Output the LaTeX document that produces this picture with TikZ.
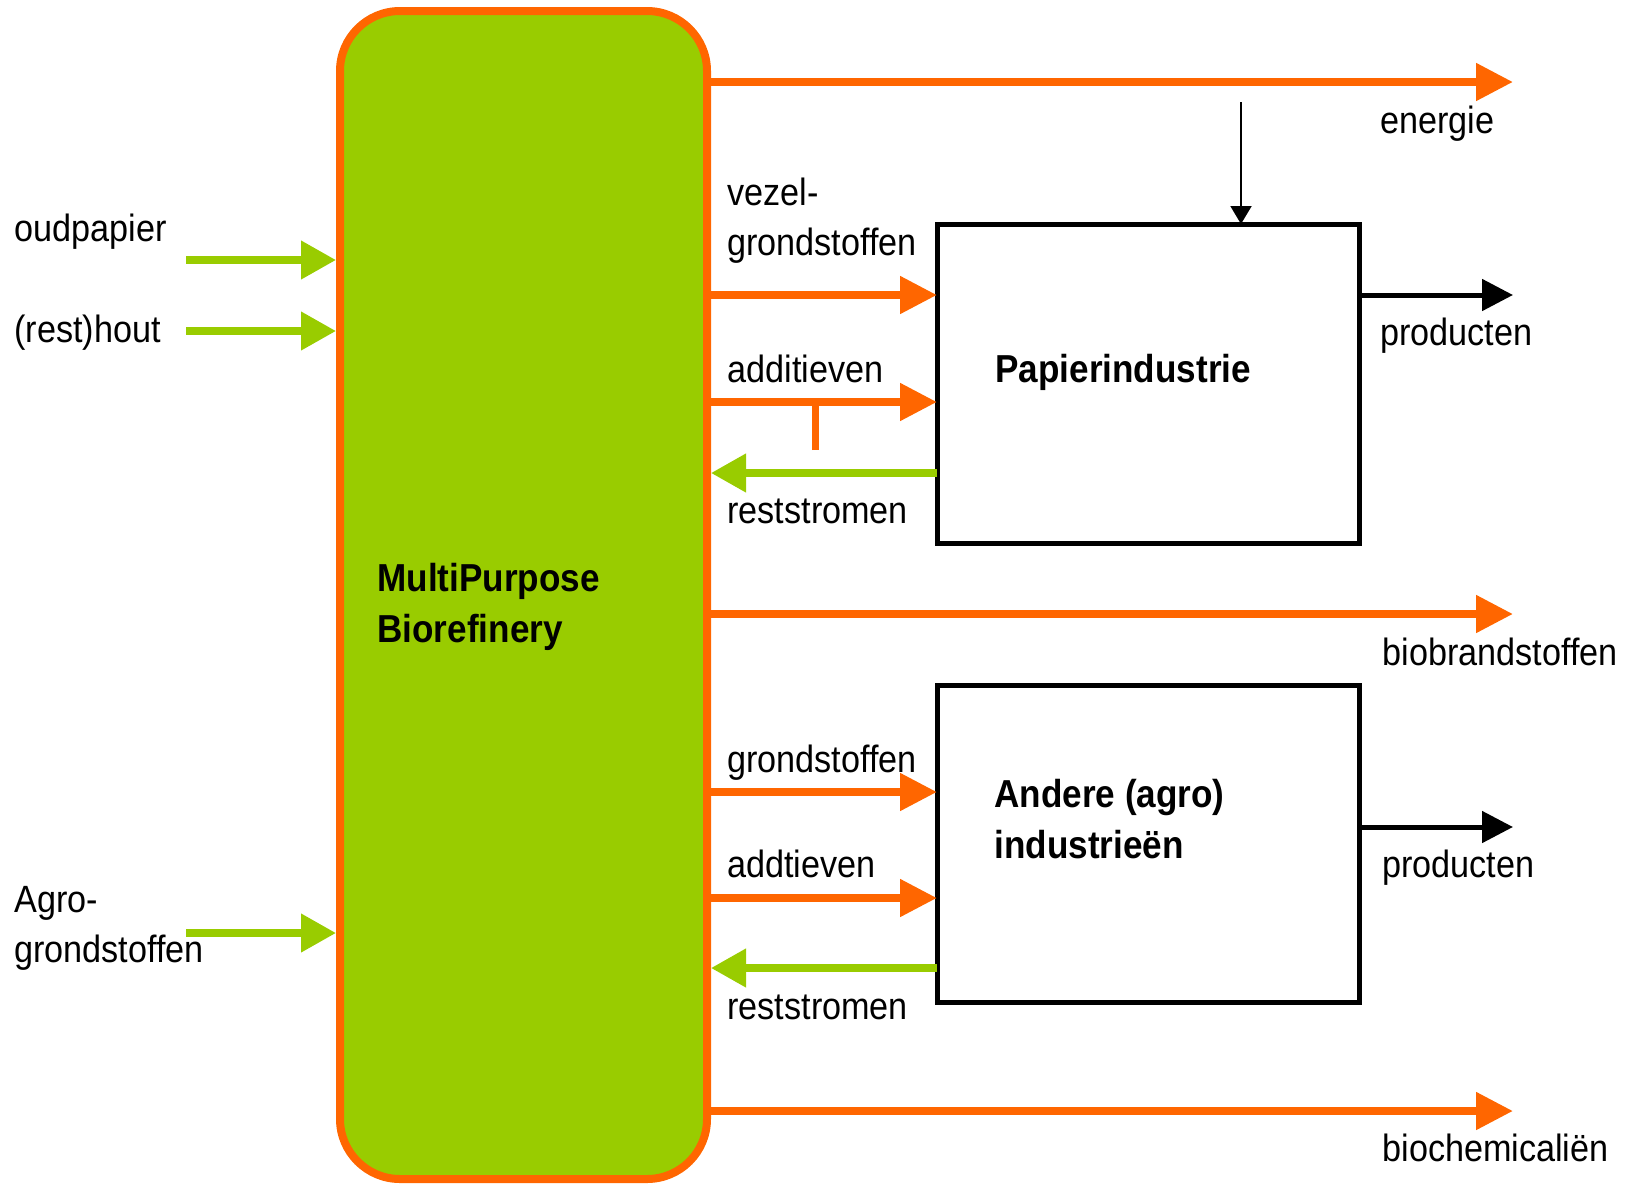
\documentclass[tikz,border=0pt]{standalone}
\usepackage{fontspec}
\setmainfont[FakeStretch=0.9]{Liberation Sans}
\usetikzlibrary{arrows.meta}
\definecolor{flowgreen}{HTML}{99CC00}
\definecolor{floworange}{HTML}{FF6600}

\begin{document}
\begin{tikzpicture}[x=0.5pt, y=-0.5pt,
	txt/.style={anchor=base west, inner sep=0pt, align=left, font=\fontsize{19pt}{25pt}\selectfont},
	boldtxt/.style={txt, font=\fontsize{19.5pt}{25.5pt}\selectfont\bfseries},
	unit/.style={draw=black, line width=2.5pt, minimum width=211pt, outer sep=0pt},
	orangeflow/.style={draw=floworange, line width=4pt, -{Triangle[length=18.5pt, width=18pt]}},
	greenflow/.style={draw=flowgreen, line width=3.7pt, -{Triangle[length=17.5pt, width=18.5pt]}},
	blackflow/.style={draw=black, line width=2.5pt, -{Triangle[length=15.5pt, width=15.5pt]}},
	thinflow/.style={draw=black, line width=1pt, -{Triangle[length=9pt, width=10.5pt]}}]
	\useasboundingbox (0,0) rectangle (1644,1184);

	% blocks
	\node[draw=floworange, fill=flowgreen, line width=4pt, rounded corners=30pt,
		minimum width=183.5pt, minimum height=584pt, inner sep=0pt] (mpb) at (523.5,595) {};
	\node[unit, minimum height=159.5pt] (pap) at (1148,383.5) {};
	\node[unit, minimum height=158.5pt] (agr) at (1148,843.5) {};

	\node[boldtxt] (mpbtxt) at (377,642) {MultiPurpose\\Biorefinery};
	\node[boldtxt] (paptxt) at (995,382) {Papierindustrie};
	\node[boldtxt] (agrtxt) at (994,858) {Andere (agro)\\industrieën};

	% rows
	\coordinate (inx)  at (186,0);
	\coordinate (outx) at (1513,0);
	\coordinate (oud)  at (0,260);
	\coordinate (hout) at (0,331);
	\coordinate (agro) at (0,933);
	\coordinate (ene)  at (0,82);
	\coordinate (vez)  at (0,295);
	\coordinate (add)  at (0,402);
	\coordinate (rst)  at (0,473);
	\coordinate (bio)  at (0,614);
	\coordinate (grd)  at (0,792);
	\coordinate (prb)  at (0,827);
	\coordinate (adt)  at (0,898);
	\coordinate (rsb)  at (0,968);
	\coordinate (chem) at (0,1111);
	\coordinate (tap)  at (1241,102);
	\coordinate (tee)  at (815,450);

	% inputs
	\draw[greenflow] (oud -| inx) -- (oud -| mpb.west);
	\draw[greenflow] (hout -| inx) -- (hout -| mpb.west);
	\draw[greenflow] (agro -| inx) -- (agro -| mpb.west);

	% outputs
	\draw[orangeflow] (ene -| mpb.east) -- (ene -| outx);
	\draw[orangeflow] (vez -| mpb.east) -- (vez -| pap.west);
	\draw[orangeflow] (add -| mpb.east) -- (add -| pap.west);
	\draw[floworange, line width=3.5pt] (tee) -- (tee |- add);
	\draw[greenflow] (rst -| pap.west) -- (rst -| mpb.east);
	\draw[orangeflow] (bio -| mpb.east) -- (bio -| outx);
	\draw[orangeflow] (grd -| mpb.east) -- (grd -| agr.west);
	\draw[orangeflow] (adt -| mpb.east) -- (adt -| agr.west);
	\draw[greenflow] (rsb -| agr.west) -- (rsb -| mpb.east);
	\draw[orangeflow] (chem -| mpb.east) -- (chem -| outx);
	\draw[blackflow] (vez -| pap.east) -- (vez -| outx);
	\draw[blackflow] (prb -| agr.east) -- (prb -| outx);
	\draw[thinflow] (tap) -- (tap |- pap.north);

	% labels
	\node[txt] (oudtxt)  at (14,241)   {oudpapier};
	\node[txt] (houttxt) at (14,342)   {(rest)hout};
	\node[txt] (agrotxt) at (14,962)   {Agro-\\grondstoffen};
	\node[txt] (veztxt)  at (727,255)  {vezel-\\grondstoffen};
	\node[txt] (addtxt)  at (727,382)  {additieven};
	\node[txt] (rsttxt)  at (727,523)  {reststromen};
	\node[txt] (grdtxt)  at (727,772)  {grondstoffen};
	\node[txt] (adttxt)  at (727,877)  {addtieven};
	\node[txt] (rsbtxt)  at (727,1019) {reststromen};
	\node[txt] (enetxt)  at (1380,133) {energie};
	\node[txt] (prdtxt)  at (1380,345) {producten};
	\node[txt] (biotxt)  at (1382,665) {biobrandstoffen};
	\node[txt] (prbtxt)  at (1382,877) {producten};
	\node[txt] (chemtxt) at (1382,1161) {biochemicaliën};
\end{tikzpicture}
\end{document}
